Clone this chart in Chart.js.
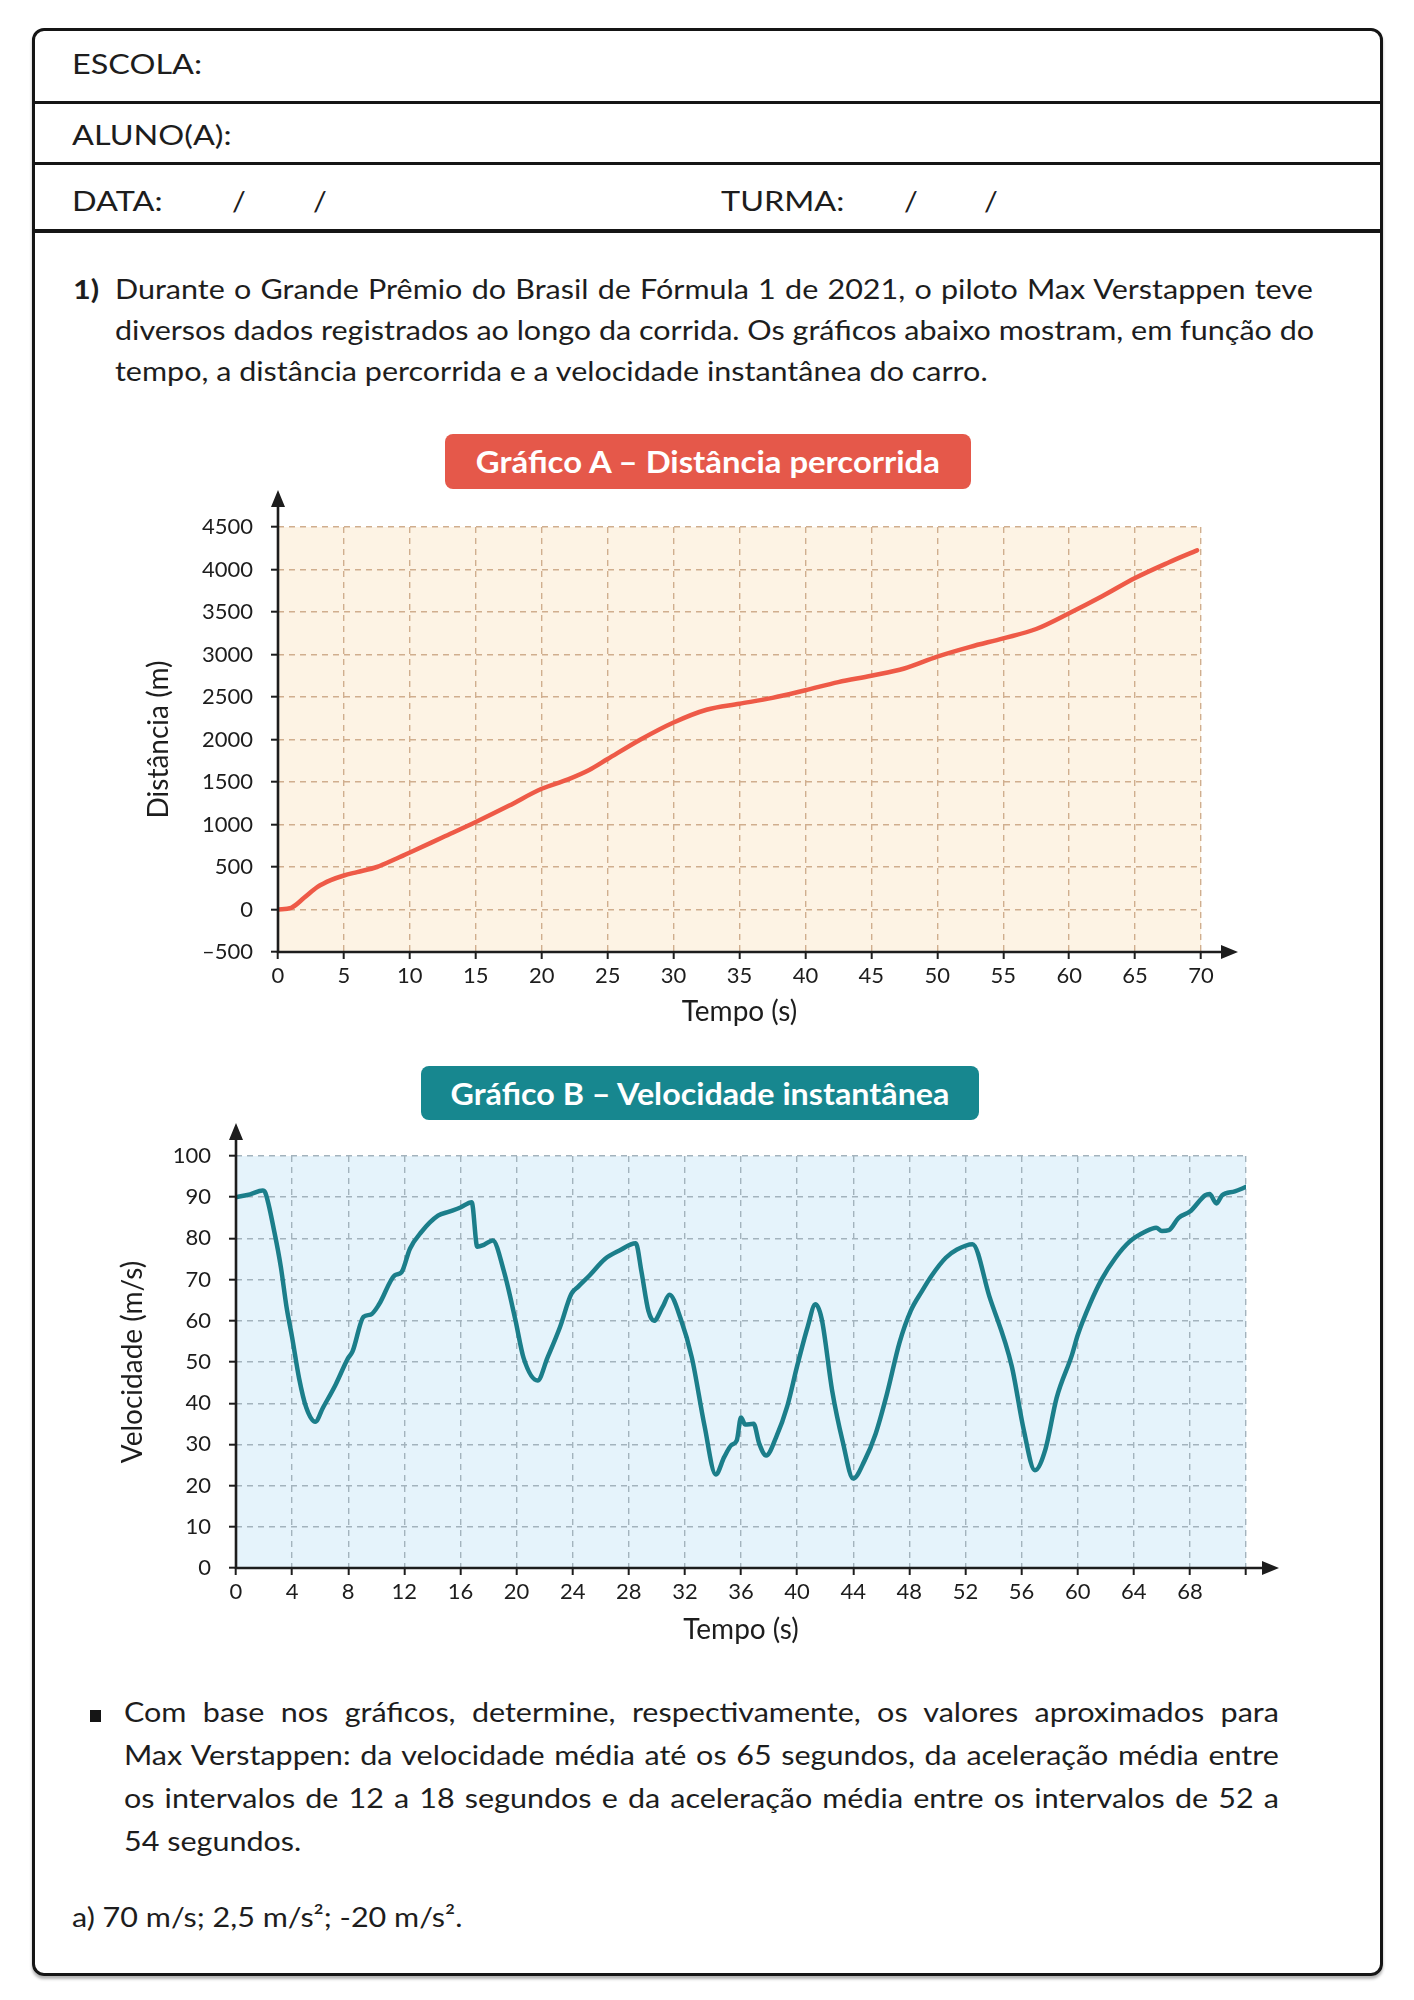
<!DOCTYPE html>
<html lang="pt-BR">
<head>
<meta charset="utf-8">
<script src="https://cdn.jsdelivr.net/npm/chart.js@4.4.1/dist/chart.umd.min.js"></script>
<style>
  body { margin:0; background:#fff; font-family: Lato, 'Open Sans', sans-serif; color:#1d1d1d; }
  #page { position:relative; width:1414px; height:2000px; overflow:hidden; }
  .frame { position:absolute; left:32px; top:28px; width:1345px; height:1942px; border:3px solid #151515; border-radius:12px; box-shadow:0 3px 3px rgba(0,0,0,0.3); }
  .rule { position:absolute; left:33px; width:1349px; background:#151515; }
  .txt { position:absolute; font-size:27px; line-height:42px; white-space:nowrap; transform-origin:0 0; transform:scaleX(1.13); }
  .cap { transform:scaleX(1.2); }
  .jl { text-align:justify; text-align-last:justify; }
  .badge { position:absolute; color:#fff; font-weight:700; font-size:30px; text-align:center; border-radius:8px; }
  .badge span { display:inline-block; }
  canvas { position:absolute; }
</style>
</head>
<body>
<div id="page">
  <div class="frame"></div>
  <div class="rule" style="top:101px;height:3px"></div>
  <div class="rule" style="top:162px;height:3px"></div>
  <div class="rule" style="top:229px;height:4px"></div>

  <div class="txt cap" style="left:72px;top:43px">ESCOLA:</div>
  <div class="txt cap" style="left:72px;top:114px">ALUNO(A):</div>
  <div class="txt cap" style="left:72px;top:180px">DATA:</div>
  <div class="txt" style="left:232px;top:180px">/</div>
  <div class="txt" style="left:313px;top:180px">/</div>
  <div class="txt cap" style="left:721px;top:180px">TURMA:</div>
  <div class="txt" style="left:904px;top:180px">/</div>
  <div class="txt" style="left:984px;top:180px">/</div>

  <div class="txt" style="left:73px;top:268px;font-weight:700">1)</div>
  <div class="txt jl" style="left:115px;top:268px;width:1060px">Durante o Grande Prêmio do Brasil de Fórmula 1 de 2021, o piloto Max Verstappen teve</div>
  <div class="txt jl" style="left:115px;top:309px;width:1060px">diversos dados registrados ao longo da corrida. Os gráficos abaixo mostram, em função do</div>
  <div class="txt" style="left:115px;top:350px">tempo, a distância percorrida e a velocidade instantânea do carro.</div>

  <div class="badge" style="left:445px;top:434px;width:526px;height:55px;line-height:55px;background:#e5584a"><span style="transform:scaleX(1.095)">Gráfico A – Distância percorrida</span></div>
  <canvas id="chartA" width="1150" height="580" style="left:120px;top:470px"></canvas>

  <div class="badge" style="left:421px;top:1066px;width:558px;height:54px;line-height:54px;background:#17878f"><span style="transform:scaleX(1.075)">Gráfico B – Velocidade instantânea</span></div>
  <canvas id="chartB" width="1230" height="570" style="left:80px;top:1100px"></canvas>

  <div style="position:absolute;left:90px;top:1710px;width:11px;height:12px;background:#151515"></div>
  <div class="txt jl" style="left:124px;top:1690px;width:1022px;line-height:43px">Com base nos gráficos, determine, respectivamente, os valores aproximados para</div>
  <div class="txt jl" style="left:124px;top:1733px;width:1022px;line-height:43px">Max Verstappen: da velocidade média até os 65 segundos, da aceleração média entre</div>
  <div class="txt jl" style="left:124px;top:1776px;width:1022px;line-height:43px">os intervalos de 12 a 18 segundos e da aceleração média entre os intervalos de 52 a</div>
  <div class="txt" style="left:124px;top:1819px;line-height:43px">54 segundos.</div>

  <div class="txt" style="left:72px;top:1896px">a) 70 m/s; 2,5 m/s²; -20 m/s².</div>
</div>

<script>
// Gráfico A: tempo (s) x distância (m)
const tempoA = [0, 1, 2, 3, 4, 5, 6, 7.5, 9, 10, 12.5, 15, 17.5, 20, 22, 23.6, 25, 27.5, 30, 32.5, 35, 37.5, 40, 42.5, 45, 47.5, 50, 52.5, 55, 57.5, 60, 62.5, 65, 67.5, 69.7];
const distA  = [0, 20, 140, 265, 345, 400, 440, 500, 600, 670, 850, 1030, 1220, 1420, 1530, 1640, 1770, 2000, 2200, 2350, 2420, 2490, 2580, 2675, 2750, 2835, 2975, 3090, 3190, 3300, 3485, 3685, 3900, 4080, 4225];

// Gráfico B: tempo (s) x velocidade (m/s)
const tempoB = [0, 1, 1.9, 2.1, 2.75, 3.2, 3.6, 4, 4.5, 5, 5.65, 6.2, 7.1, 8, 8.3, 9.1, 9.6, 10.2, 11.3, 11.8, 12.4, 13.2, 14.4, 15.2, 16, 16.8,
  17.2, 17.7, 18.3, 19.1, 19.9, 20.5, 21.5, 22.2, 23.1, 23.9, 24.4, 25.2, 26.3, 27.3, 28.5, 28.9, 29.4, 29.8, 30.4, 30.9, 31.7, 32.5,
  33.4, 34.2, 34.8, 35.3, 35.7, 36, 36.3, 36.9, 37.3, 37.8, 38.5, 39.3, 40, 40.75, 41.3, 41.75, 42.5, 43.25, 44, 44.8, 45.6, 46.4,
  47.3, 48.1, 48.9, 49.6, 50.6, 51.4, 52.5, 53.7, 55.3, 56.15, 56.95, 57.7, 58.5, 59.6, 60, 60.9, 61.7, 62.7, 63.7, 64.8, 65.6, 66,
  66.5, 67.2, 68, 69.1, 69.4, 69.9, 70.3, 71.2, 72];
const velB = [90, 90.7, 91.6, 91, 81.3, 73, 63.4, 56, 46, 39, 35.5, 38.9, 44.5, 51, 52.5, 61, 61.5, 64, 71, 71.8, 77.5, 81.5, 85.5, 86.5, 87.5, 88.8,
  78, 78.5, 79.5, 72, 60.5, 51, 45.5, 51, 58.5, 66.5, 68.3, 71, 75, 77, 78.8, 72, 62.4, 60, 63.3, 66.3, 60.5, 51,
  34.5, 22.7, 26.9, 29.8, 31, 36.5, 34.8, 35, 30.2, 27.3, 31.7, 39.3, 49, 58.5, 64, 60.5, 43, 30.7, 21.7, 26, 32.6, 42.2,
  54.7, 62.4, 67.2, 71, 75.3, 77.3, 78.6, 66, 49, 33.6, 23.7, 28.8, 41.3, 51.8, 56.5, 64.3, 70, 75.3, 79.2, 81.6, 82.6, 81.8,
  82, 85, 86.5, 90.5, 90.8, 88.5, 90.5, 91.4, 92.5];

const ink = '#1d1d1d';

// fundo colorido da área do gráfico
const plotBg = {
  id: 'plotBg',
  beforeDraw(chart, args, opts) {
    const {ctx, chartArea: a} = chart;
    ctx.save();
    ctx.fillStyle = opts.color;
    ctx.fillRect(a.left, a.top, a.right - a.left, a.bottom - a.top);
    ctx.restore();
  }
};

// eixos com setas
const arrows = {
  id: 'arrows',
  afterDraw(chart, args, opts) {
    const {ctx, chartArea: a} = chart;
    const ext = opts.ext;
    ctx.save();
    ctx.strokeStyle = ink;
    ctx.fillStyle = ink;
    ctx.lineWidth = 2.6;
    ctx.beginPath();
    ctx.moveTo(a.left, a.bottom + 1);
    ctx.lineTo(a.left, a.top - ext + 10);
    ctx.moveTo(a.left - 1, a.bottom);
    ctx.lineTo(a.right + ext - 10, a.bottom);
    ctx.stroke();
    ctx.beginPath();
    ctx.moveTo(a.left, a.top - ext);
    ctx.lineTo(a.left - 7, a.top - ext + 17);
    ctx.lineTo(a.left + 7, a.top - ext + 17);
    ctx.closePath();
    ctx.moveTo(a.right + ext, a.bottom);
    ctx.lineTo(a.right + ext - 17, a.bottom - 7);
    ctx.lineTo(a.right + ext - 17, a.bottom + 7);
    ctx.closePath();
    ctx.fill();
    ctx.restore();
  }
};

function makeChart(canvas, cfg) {
  return new Chart(canvas, {
    type: 'line',
    data: {
      datasets: [{
        data: cfg.xs.map((x, i) => ({x: x, y: cfg.ys[i]})),
        borderColor: cfg.line,
        borderWidth: 4.5,
        pointRadius: 0,
        cubicInterpolationMode: 'monotone',
        borderJoinStyle: 'round',
        borderCapStyle: 'round'
      }]
    },
    options: {
      responsive: false,
      animation: false,
      events: [],
      layout: { padding: cfg.pad },
      plugins: {
        legend: { display: false },
        tooltip: { enabled: false },
        plotBg: { color: cfg.bg },
        arrows: { ext: cfg.ext }
      },
      scales: {
        x: {
          type: 'linear', min: cfg.xMin, max: cfg.xMax,
          afterFit: s => { s.height = cfg.xh; },
          ticks: {
            stepSize: cfg.xStep, color: ink, font: {family: 'Lato', size: 22},
            padding: 4, maxRotation: 0, autoSkip: false,
            callback: cfg.xLabel
          },
          grid: { color: cfg.grid, lineWidth: 1.4, tickLength: 7, tickColor: ink, tickWidth: 2 },
          border: { display: false, dash: [6, 5] },
          title: { display: true, text: 'Tempo (s)', color: ink, font: {family: 'Lato', size: 28},
                   padding: {top: 0, bottom: cfg.xtPad} }
        },
        y: {
          type: 'linear', min: cfg.yMin, max: cfg.yMax,
          afterFit: s => { s.width = cfg.yw; },
          ticks: {
            stepSize: cfg.yStep, color: ink, font: {family: 'Lato', size: 22},
            padding: 18, callback: cfg.yLabel
          },
          grid: { color: cfg.grid, lineWidth: 1.4, tickLength: 7, tickColor: ink, tickWidth: 2 },
          border: { display: false, dash: [6, 5] },
          title: { display: true, text: cfg.yTitle, color: ink, font: {family: 'Lato', size: 28},
                   padding: {top: cfg.ytPad, bottom: 0} }
        }
      }
    },
    plugins: [plotBg, arrows]
  });
}

makeChart(document.getElementById('chartA'), {
  xs: tempoA, ys: distA,
  line: '#ee5a47', bg: '#fdf3e4', grid: '#d0ae8e',
  xMin: 0, xMax: 70, xStep: 5, yMin: -500, yMax: 4500, yStep: 500,
  xLabel: v => String(v),
  yLabel: v => v < 0 ? '–' + (-v) : String(v),
  yTitle: 'Distância (m)',
  pad: {left: 0, top: 57, right: 69, bottom: 0},
  xh: 98, yw: 158, xtPad: 21, ytPad: 22, ext: 37
});

makeChart(document.getElementById('chartB'), {
  xs: tempoB, ys: velB,
  line: '#1b7e8a', bg: '#e5f3fb', grid: '#a3b3bd',
  xMin: 0, xMax: 72, xStep: 4, yMin: 0, yMax: 100, yStep: 10,
  xLabel: v => v === 72 ? '' : String(v),
  yLabel: v => String(v),
  yTitle: 'Velocidade (m/s)',
  pad: {left: 0, top: 56, right: 64, bottom: 0},
  xh: 102, yw: 156, xtPad: 23, ytPad: 36, ext: 33
});
</script>
</body>
</html>
